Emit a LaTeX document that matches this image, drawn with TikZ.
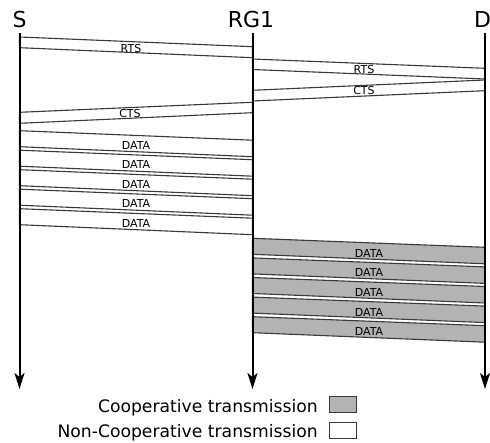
\documentclass[tikz,border=0pt]{standalone}
\usepackage{fontspec}
\setmainfont{DejaVu Sans}
\usetikzlibrary{arrows.meta}
\definecolor{pktline}{HTML}{3A3A3A}
\definecolor{coopfill}{HTML}{B3B3B3}
\begin{document}
\begin{tikzpicture}[x=1pt,y=-1pt,
  life/.style={line width=2pt,-{Stealth[length=16pt,width=10pt,inset=4pt]}},
  pkt/.style={draw=pktline,line width=1.1pt,fill=white,line join=miter},
  coop/.style={pkt,fill=coopfill},
  lbl/.style={font=\fontsize{11}{13}\selectfont,anchor=base,inner sep=0pt},
  head/.style={font=\fontsize{22}{26}\selectfont,anchor=base,inner sep=0pt},
  legtext/.style={font=\fontsize{17.2}{20}\selectfont,anchor=base east,inner sep=0pt},
  legbox/.style={draw=pktline,line width=1pt,minimum width=27pt,minimum height=16pt,inner sep=0pt}]
\useasboundingbox (0,0) rectangle (490,443);

% station headings
\node[head] (hS) at (19.5,28) {S};
\node[head] (hR) at (251,28) {RG1};
\node[head] (hD) at (482.5,28) {D};

% lifeline end points
\coordinate (Stop) at (19.5,33);   \coordinate (Sbot) at (19.5,389);
\coordinate (Rtop) at (252.5,33);  \coordinate (Rbot) at (252.5,389);
\coordinate (Dtop) at (485,33);    \coordinate (Dbot) at (485,389);

% control frames
\draw[pkt] (19.5,37) -- (252.5,46.7) -- (252.5,57.7) -- (19.5,47.7) -- cycle;
\draw[pkt] (252.5,59) -- (485,68.3) -- (485,79) -- (252.5,69.5) -- cycle;
\draw[pkt] (252.5,90.3) -- (485,80) -- (485,90.7) -- (252.5,101) -- cycle;
\draw[pkt] (19.5,112.3) -- (252.5,102.3) -- (252.5,112.7) -- (19.5,123.3) -- cycle;
\node[lbl] (rts1) at (131,52.3) {RTS};
\node[lbl] (rts2) at (364,73.3) {RTS};
\node[lbl] (cts1) at (364,95) {CTS};
\node[lbl] (cts2) at (130,117.3) {CTS};

% direct data frames S -> RG1
\foreach \i in {0,...,4}{
  \pgfmathsetmacro{\t}{130.7+19.5*\i}
  \draw[pkt] (19.5,\t) -- (252.5,\t+9.5) -- (252.5,\t+26) -- (19.5,\t+16) -- cycle;
  \node[lbl] (sd\i) at (136,\t+18.6) {DATA};
}

% cooperative data frames RG1 -> D
\foreach \i in {0,...,4}{
  \pgfmathsetmacro{\t}{238.3+19.6*\i}
  \draw[coop] (252.5,\t) -- (485,\t+9) -- (485,\t+25.5) -- (252.5,\t+16) -- cycle;
  \node[lbl] (rd\i) at (369,\t+19) {DATA};
}

% lifelines
\draw[life] (Stop) -- (Sbot);
\draw[life] (Rtop) -- (Rbot);
\draw[life] (Dtop) -- (Dbot);

% legend
\node[legbox,fill=coopfill] (boxC) at (342.5,405) {};
\node[legbox,fill=white] (boxN) at (342.5,430.3) {};
\node[legtext] (txtC) at (318,413) {Cooperative transmission};
\node[legtext] (txtN) at (318,437.5) {Non-Cooperative transmission};
\end{tikzpicture}
\end{document}
